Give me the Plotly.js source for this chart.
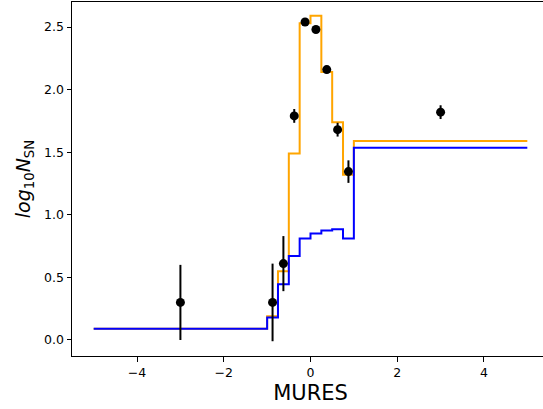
<!DOCTYPE html>
<html>
<head>
<meta charset="utf-8">
<script src="https://cdn.plot.ly/plotly-3.0.1.min.js"></script>
<style>
html, body { margin: 0; padding: 0; overflow: hidden; background: #fff; }
#chart { width: 552px; height: 409px; }
</style>
</head>
<body>
<div id="chart"></div>
<script>
// Bin edges of the step curves
const binEdges = [-5, -1, -0.75, -0.5, -0.25, 0, 0.25, 0.5, 0.75, 1, 5];
// Orange step curve values (one per bin)
const orangeValues = [0.09, 0.19, 0.55, 1.49, 2.53, 2.59, 2.14, 1.74, 1.32, 1.59];
// Blue step curve values (one per bin)
const blueValues = [0.09, 0.18, 0.445, 0.67, 0.81, 0.85, 0.875, 0.885, 0.81, 1.535];
// Data points with error bars
const pointX = [-3, -0.875, -0.625, -0.375, -0.125, 0.125, 0.375, 0.625, 0.875, 3];
const pointY = [0.30, 0.30, 0.61, 1.79, 2.54, 2.48, 2.16, 1.68, 1.345, 1.82];
const pointErr = [0.30, 0.31, 0.22, 0.055, 0.02, 0.02, 0.03, 0.055, 0.09, 0.055];

function stepY(vals) { return vals.concat([vals[vals.length - 1]]); }

const traces = [
  { x: binEdges, y: stepY(orangeValues), type: 'scatter', mode: 'lines',
    line: { shape: 'hv', color: '#FFA500', width: 2 }, hoverinfo: 'none' },
  { x: binEdges, y: stepY(blueValues), type: 'scatter', mode: 'lines',
    line: { shape: 'hv', color: '#0000FF', width: 2 }, hoverinfo: 'none' },
  { x: pointX, y: pointY, type: 'scatter', mode: 'markers',
    marker: { color: '#000', size: 9 },
    error_y: { type: 'data', array: pointErr, visible: true, color: '#000', thickness: 2, width: 0 } }
];

const tickFont = { family: 'DejaVu Sans', size: 12.5, color: '#000' };
const layout = {
  width: 552, height: 409,
  margin: { l: 72, r: 3, t: 2, b: 53 },
  paper_bgcolor: '#fff', plot_bgcolor: '#fff',
  showlegend: false,
  xaxis: {
    range: [-5.5, 5.5], tick0: 0, dtick: 2,
    showgrid: false, zeroline: false,
    showline: true, linecolor: '#000', linewidth: 1, mirror: true,
    ticks: 'outside', ticklen: 4.5, tickwidth: 1, tickcolor: '#000',
    tickfont: tickFont,
    title: { text: 'MURES', font: { family: 'DejaVu Sans', size: 21, color: '#000' }, standoff: 6 }
  },
  yaxis: {
    range: [-0.128, 2.70], tick0: 0, dtick: 0.5, tickformat: '.1f',
    showgrid: false, zeroline: false,
    showline: true, linecolor: '#000', linewidth: 1, mirror: true,
    ticks: 'outside', ticklen: 4.5, tickwidth: 1, tickcolor: '#000',
    tickfont: tickFont,
    title: { text: '<i>log</i><sub>10</sub><i>N</i><sub>SN</sub>', font: { family: 'DejaVu Sans', size: 19, color: '#000' }, standoff: 8 }
  }
};

Plotly.newPlot('chart', traces, layout, { staticPlot: true, displayModeBar: false });
</script>
</body>
</html>
